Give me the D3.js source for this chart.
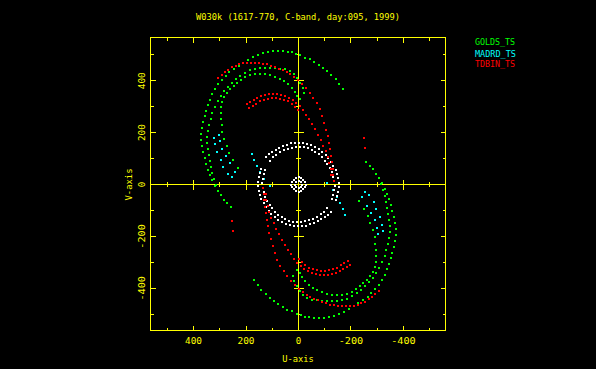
<!DOCTYPE html>
<html><head><meta charset="utf-8">
<script src="https://cdn.jsdelivr.net/npm/d3@7"></script>
<style>html,body{margin:0;padding:0;background:#000;overflow:hidden}</style>
</head><body>
<svg id="chart" width="596" height="369"></svg>
<script>
// ---------------- data (u,v in kilo-lambda; conjugate points are plotted too) -------------
const chartTitle = "W030k (1617-770, C-band, day:095, 1999)";
const xLabel = "U-axis";
const yLabel = "V-axis";
const majorTicks = [-400, -200, 0, 200, 400];
const minorTicks = [-500, -300, -100, 100, 300, 500];
const tickLabels = ["-400", "-200", "0", "200", "400"];
const seriesNames = ["GOLDS_TS", "MADRD_TS", "TDBIN_TS"];
const seriesColors = ["#00ff00", "#00ffff", "#ff0000"];

// GOLDS_TS
const goldsTrack1 = [[-171,367],[-156,388],[-141,406],[-125,423],[-110,436],[-95,450],[-78,462],[-60,472],[-43,482],[-26,489],[-7,498],[8,504],[24,509],[39,512],[58,514],[77,515],[96,514],[116,511],[135,506],[154,500],[173,490],[192,479],[211,467],[228,456],[246,444],[263,433],[278,419],[293,404],[307,386],[318,367],[328,348],[337,327],[345,305],[353,284],[358,263],[364,240],[368,217],[370,194],[370,170],[368,147],[364,124],[358,101],[353,78],[345,55],[337,36],[330,16],[318,-7],[307,-26],[295,-42],[284,-59],[272,-73],[259,-88]];
const goldsTrack2 = [[314,-3],[322,20],[328,43],[333,66],[337,89],[341,113],[345,136],[347,159],[347,182],[345,205],[341,228],[335,251],[328,274],[318,298],[307,321],[295,340],[282,359],[268,375],[253,390],[238,406],[223,419],[203,431],[184,440],[165,445],[146,448],[127,449],[108,449],[89,448],[70,447],[50,444],[33,436],[18,425],[5,409],[-7,392],[-16,373],[-22,352]];
const goldsTrack3 = [[230,62],[249,93],[265,120],[274,149],[282,176],[290,203],[293,228],[295,251],[295,275],[295,298],[291,319],[284,336],[272,354],[261,367],[247,381],[234,392],[219,404],[203,413],[184,421],[165,425],[146,426],[127,425],[108,421],[89,415],[72,408],[54,398],[39,386],[26,371],[14,355],[5,342],[-5,328]];

// MADRD_TS
const madrdTrack1 = [[303,190],[299,168],[290,138],[277,109],[261,81],[242,48]];
const madrdTrack2 = [[321,181],[318,155],[312,125],[295,96],[286,68],[267,39],[254,27]];
const madrdTrack3 = [[178,119],[169,93],[159,70],[146,47],[131,20],[108,-6]];

// TDBIN_TS
const tdbinTrack1 = [[307,409],[293,423],[280,434],[267,443],[253,452],[240,458],[226,463],[213,467],[198,468],[182,469],[167,469],[152,468],[137,466],[121,463],[106,458],[91,453],[75,447],[60,440],[45,433],[31,425],[16,415],[1,404],[-13,389],[-28,373],[-43,354],[-57,334],[-70,313],[-82,290],[-91,265],[-99,238],[-106,211],[-111,186],[-116,161],[-120,136],[-124,111],[-127,86],[-130,61],[-133,36],[-134,12]];
const tdbinTrack2 = [[197,309],[184,319],[171,327],[158,334],[142,340],[127,345],[112,348],[96,349],[81,349],[66,346],[51,341],[35,335],[22,327],[8,315],[-5,302],[-18,286],[-30,269],[-41,251],[-53,232],[-64,213],[-76,192],[-85,170],[-95,149],[-104,128],[-112,105],[-118,82],[-123,59],[-125,36]];
const tdbinTrack3 = [[188,294],[175,303],[161,312],[146,320],[131,325],[116,329],[100,332],[85,332],[70,330],[54,325],[39,320],[26,311],[12,300],[1,286]];
const tdbinTrack4 = [[254,-142],[251,-179]];

// short baseline (white, no legend entry)
const shortTrack1 = [[123,105],[112,116],[100,126],[87,134],[73,142],[58,147],[43,153],[28,159],[12,161],[-3,161],[-18,159],[-34,155],[-49,151],[-64,143],[-78,136],[-91,126],[-103,115],[-114,101],[-124,88],[-133,72],[-141,57],[-147,41],[-150,24],[-154,7],[-154,-11],[-152,-28],[-148,-46],[-141,-61]];
const shortTrack2 = [[110,91],[98,105],[85,115],[72,124],[56,132],[41,138],[26,142],[10,145],[-5,145],[-20,143],[-36,140],[-51,134],[-64,126],[-78,116],[-89,105],[-101,91],[-110,78],[-120,63],[-127,47],[-133,30],[-137,12],[-139,-5],[-137,-22],[-133,-40],[-127,-57]];
const originRing1 = [[27,0],[25,10],[19,19],[10,25],[0,27],[-10,25],[-19,19],[-25,10]];
const originRing2 = [[15,0],[11,11],[0,15],[-11,11]];

// ---------------- drawing ----------------
const W = 596, H = 369;
const svg = d3.select("#chart");
svg.append("rect").attr("width", W).attr("height", H).attr("fill", "#000");

const x = d3.scaleLinear().domain([565, -565]).range([150.2, 446.8]);
const y = d3.scaleLinear().domain([-565, 565]).range([331.1, 37.9]);
const px = v => Math.round(x(v) - 0.5) + 0.5;
const py = v => Math.round(y(v) - 0.5) + 0.5;

const YEL = "#ffff00";
const FONT = "'DejaVu Sans Mono', 'Liberation Mono', monospace";
const FS = 9.3;

const L = 150.5, R = 445.5, T = 37.5, B = 330.5;
const axes = svg.append("g").attr("stroke", YEL).attr("stroke-width", 1)
  .attr("shape-rendering", "crispEdges").attr("fill", "none");

axes.append("rect").attr("x", L).attr("y", T).attr("width", R - L).attr("height", B - T);
// zero lines
axes.append("line").attr("x1", L).attr("x2", R).attr("y1", py(0)).attr("y2", py(0));
axes.append("line").attr("x1", px(0)).attr("x2", px(0)).attr("y1", T).attr("y2", B);

const tickSets = [
  {vals: majorTicks, len: 5, half: 5},
  {vals: minorTicks, len: 3, half: 2.5}
];
tickSets.forEach(ts => {
  const tv = ts.vals.filter(v => v !== 0);
  // bottom & top
  axes.selectAll(null).data(tv).enter().append("line")
    .attr("x1", d => px(d)).attr("x2", d => px(d)).attr("y1", B).attr("y2", B - ts.len);
  axes.selectAll(null).data(tv).enter().append("line")
    .attr("x1", d => px(d)).attr("x2", d => px(d)).attr("y1", T).attr("y2", T + ts.len);
  // left & right
  axes.selectAll(null).data(tv).enter().append("line")
    .attr("y1", d => py(d)).attr("y2", d => py(d)).attr("x1", L).attr("x2", L + ts.len);
  axes.selectAll(null).data(tv).enter().append("line")
    .attr("y1", d => py(d)).attr("y2", d => py(d)).attr("x1", R).attr("x2", R - ts.len);
  // on zero lines
  axes.selectAll(null).data(tv).enter().append("line")
    .attr("x1", d => px(d)).attr("x2", d => px(d))
    .attr("y1", py(0) - ts.half).attr("y2", py(0) + ts.half);
  axes.selectAll(null).data(tv).enter().append("line")
    .attr("y1", d => py(d)).attr("y2", d => py(d))
    .attr("x1", px(0) - ts.half).attr("x2", px(0) + ts.half);
});
// small ticks at the frame where the zero lines meet it
axes.append("line").attr("x1", px(0)).attr("x2", px(0)).attr("y1", B).attr("y2", B - 5);

const txt = svg.append("g").attr("fill", YEL).attr("font-family", FONT).attr("font-size", FS);
const labelLen = s => s === "0" ? 5.5 : (s.startsWith("-") ? 24.5 : 17);

// x tick labels
txt.selectAll(null).data(majorTicks).enter().append("text")
  .attr("x", d => x(d)).attr("y", 343.6).attr("text-anchor", "middle")
  .attr("textLength", (d, i) => labelLen(tickLabels[i])).attr("lengthAdjust", "spacingAndGlyphs")
  .text((d, i) => tickLabels[i]);
// y tick labels (rotated)
txt.selectAll(null).data(majorTicks).enter().append("text")
  .attr("transform", d => `translate(145.4,${y(d)}) rotate(-90)`).attr("text-anchor", "middle")
  .attr("textLength", (d, i) => labelLen(tickLabels[i])).attr("lengthAdjust", "spacingAndGlyphs")
  .text((d, i) => tickLabels[i]);
// axis titles
txt.append("text").attr("x", 298).attr("y", 362.3).attr("text-anchor", "middle")
  .attr("textLength", 31.5).attr("lengthAdjust", "spacingAndGlyphs").text(xLabel);
txt.append("text").attr("transform", `translate(132.4,184.5) rotate(-90)`).attr("text-anchor", "middle")
  .attr("textLength", 32).attr("lengthAdjust", "spacingAndGlyphs").text(yLabel);
// title
txt.append("text").attr("x", 298).attr("y", 19.5).attr("text-anchor", "middle")
  .attr("textLength", 204).attr("lengthAdjust", "spacingAndGlyphs").text(chartTitle);

// legend
const legendY = [45.2, 56.7, 66.8];
const legendLen = [40, 41, 40];
svg.append("g").attr("font-family", FONT).attr("font-size", FS)
  .selectAll("text").data(seriesNames).enter().append("text")
  .attr("x", 475).attr("y", (d, i) => legendY[i]).attr("fill", (d, i) => seriesColors[i])
  .attr("textLength", (d, i) => legendLen[i]).attr("lengthAdjust", "spacingAndGlyphs")
  .text(d => d);

// uv points (with their conjugates)
const series = [
  {color: seriesColors[0], tracks: [goldsTrack1, goldsTrack2, goldsTrack3]},
  {color: seriesColors[1], tracks: [madrdTrack1, madrdTrack2, madrdTrack3]},
  {color: "#ffffff", tracks: [shortTrack1, shortTrack2, originRing1, originRing2]},
  {color: seriesColors[2], tracks: [tdbinTrack1, tdbinTrack2, tdbinTrack3, tdbinTrack4]}
];
const pts = svg.append("g").attr("shape-rendering", "crispEdges");
series.forEach(s => {
  const all = s.tracks.flat().flatMap(p => [p, [-p[0], -p[1]]]);
  pts.append("g").attr("fill", s.color).selectAll("rect").data(all).enter().append("rect")
    .attr("x", d => x(d[0]) - 1).attr("y", d => y(d[1]) - 1)
    .attr("width", 2).attr("height", 2);
});
</script>
</body></html>
